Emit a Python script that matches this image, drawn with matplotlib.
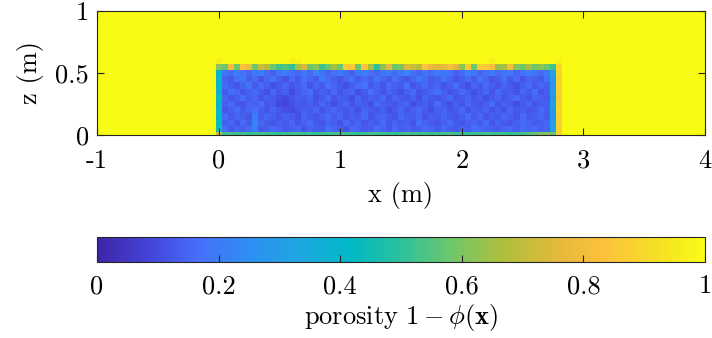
import numpy as np
import matplotlib
matplotlib.use('Agg')
import matplotlib.pyplot as plt
from matplotlib.colors import LinearSegmentedColormap

# grid spacing of the porosity field (cell centres)
dx = 0.05
x_min, x_max = -1.0, 4.0
z_min, z_max = 0.0, 1.0

# porosity inside the block, in percent, rows from top (z=0.50) to bottom (z=0.05), x=0.05..2.70
interior = [
    [18, 16, 20, 17, 15, 19, 21, 16, 14, 18, 20, 17, 15, 19, 16, 22, 18, 15, 17, 20, 16, 14, 19, 21, 17, 15, 18,
     20, 16, 19, 22, 17, 15, 18, 16, 20, 19, 17, 14, 16, 21, 18, 15, 17, 20, 16, 18, 19, 15, 17, 20, 18, 16, 19],
    [15, 13, 17, 19, 14, 16, 12, 15, 18, 14, 12, 16, 13, 17, 15, 13, 19, 16, 14, 12, 15, 17, 13, 16, 14, 18, 15,
     13, 17, 14, 12, 15, 19, 16, 13, 14, 17, 15, 12, 14, 16, 13, 18, 15, 12, 14, 17, 13, 16, 12, 15, 14, 13, 17],
    [16, 14, 12, 15, 18, 13, 16, 14, 11, 13, 15, 12, 14, 16, 12, 15, 13, 17, 15, 13, 11, 14, 16, 18, 13, 15, 12,
     16, 14, 13, 17, 12, 14, 16, 13, 15, 12, 14, 17, 13, 11, 15, 13, 16, 14, 12, 15, 13, 11, 14, 16, 13, 15, 14],
    [13, 17, 15, 12, 14, 16, 13, 11, 15, 12, 14, 10, 13, 15, 17, 12, 14, 13, 16, 12, 14, 15, 11, 13, 17, 14, 12,
     15, 13, 11, 14, 16, 12, 13, 15, 17, 14, 12, 13, 16, 14, 11, 13, 15, 12, 16, 13, 14, 12, 15, 13, 17, 12, 14],
    [15, 12, 14, 17, 13, 15, 12, 14, 13, 11, 10, 12, 14, 13, 15, 11, 13, 16, 12, 14, 13, 11, 15, 12, 14, 13, 16,
     12, 15, 13, 12, 14, 11, 15, 13, 12, 14, 16, 12, 13, 15, 12, 14, 11, 13, 15, 12, 14, 16, 13, 12, 15, 14, 13],
    [14, 16, 13, 12, 15, 14, 16, 12, 13, 10, 9, 11, 13, 12, 14, 12, 15, 13, 11, 13, 15, 12, 14, 13, 11, 16, 14,
     13, 12, 14, 15, 11, 13, 14, 12, 16, 13, 11, 14, 12, 15, 13, 12, 14, 16, 12, 14, 13, 11, 13, 15, 12, 13, 14],
    [12, 14, 16, 13, 15, 17, 14, 12, 15, 13, 11, 10, 12, 14, 13, 15, 12, 14, 16, 13, 12, 14, 11, 15, 13, 12, 14,
     11, 13, 15, 12, 14, 16, 13, 11, 14, 15, 12, 13, 16, 12, 14, 13, 15, 12, 14, 12, 15, 13, 14, 12, 13, 16, 14],
    [16, 13, 15, 14, 12, 20, 13, 15, 14, 12, 14, 13, 11, 15, 13, 12, 14, 16, 13, 15, 12, 14, 13, 16, 12, 14, 15,
     13, 12, 16, 14, 13, 15, 12, 14, 13, 15, 13, 12, 14, 16, 13, 15, 12, 14, 13, 15, 14, 12, 16, 13, 14, 15, 13],
    [14, 15, 12, 16, 13, 22, 15, 13, 12, 14, 13, 15, 12, 14, 16, 13, 12, 15, 14, 12, 16, 13, 15, 12, 14, 13, 16,
     12, 15, 13, 14, 12, 17, 15, 13, 12, 14, 16, 13, 12, 14, 15, 13, 16, 12, 15, 13, 12, 14, 16, 15, 13, 14, 15],
    [17, 13, 15, 14, 16, 21, 13, 14, 16, 15, 13, 14, 16, 12, 15, 14, 13, 17, 15, 14, 12, 16, 15, 13, 14, 17, 15,
     13, 16, 14, 15, 13, 14, 16, 15, 13, 16, 14, 13, 15, 14, 17, 16, 15, 14, 13, 15, 16, 14, 17, 15, 16, 14, 15],
]

# top layer of the block (z=0.55), x=0..2.80
top_row = [62, 58, 82, 58, 84, 80, 58, 72, 68, 58, 52, 55, 50, 66, 74, 58, 62, 52, 58, 66, 58, 86, 86, 58, 84, 66,
           50, 62, 76, 58, 60, 74, 72, 68, 84, 78, 76, 77, 82, 76, 62, 86, 58, 86, 86, 82, 64, 66, 82, 62, 58, 66,
           58, 62, 58, 52, 90]
# bottom layer (z=0), x=0..2.80
bottom_row = [72, 52, 53, 52, 52, 51, 52, 53, 52, 52, 51, 52, 52, 53, 52, 52, 51, 52, 52, 53, 52, 52, 52, 51, 52,
              53, 52, 52, 52, 51, 52, 53, 52, 52, 52, 51, 52, 52, 53, 52, 52, 51, 52, 52, 53, 52, 52, 52, 51, 52,
              53, 55, 57, 60, 62, 58, 88]
# left column (x=0), right columns (x=2.75, x=2.80), z=0.05..0.50
left_col = [45, 44, 42, 38, 40, 44, 36, 42, 38, 40]
right_col = [32, 30, 28, 30, 31, 29, 30, 28, 30, 32]
edge_col = [88, 87, 88, 90, 88, 87, 88, 89, 88, 90]
# slightly reduced cells just above the block (z=0.60)
cap_x = [0.0, 0.6, 0.65, 2.25, 2.8]
cap_val = [96, 97, 97, 97, 97]

# parula-like colour anchors
parula_pts = ['#3e26a8', '#4443d9', '#476ffa', '#2d8ff3', '#1ea7e0', '#00b9c6', '#2cc19b', '#6fc76b',
              '#aebf3c', '#e0b93b', '#fcc03c', '#f5dd27', '#f9fb15']
cmap = LinearSegmentedColormap.from_list('parula', parula_pts, N=256)

nx = int(round((x_max - x_min) / dx)) + 1
nz = int(round((z_max - z_min) / dx)) + 1
field = np.ones((nz, nx))
i0 = int(round((0.0 - x_min) / dx))
n_in = len(interior[0])
for r, row in enumerate(interior):
    k = 10 - r
    field[k, i0 + 1:i0 + 1 + n_in] = np.array(row) / 100
field[11, i0:i0 + len(top_row)] = np.array(top_row) / 100
field[0, i0:i0 + len(bottom_row)] = np.array(bottom_row) / 100
field[1:11, i0] = np.array(left_col) / 100
field[1:11, i0 + n_in + 1] = np.array(right_col) / 100
field[1:11, i0 + n_in + 2] = np.array(edge_col) / 100
for xc, v in zip(cap_x, cap_val):
    field[12, int(round((xc - x_min) / dx))] = v / 100

plt.rcParams['mathtext.fontset'] = 'cm'
plt.rcParams['font.family'] = 'cmr10'
plt.rcParams['axes.unicode_minus'] = False
fs = 19

fig = plt.figure(figsize=(7.12, 3.38), dpi=100)
ax = fig.add_axes([97 / 712, 1 - 135 / 338, 608 / 712, 124 / 338])
im = ax.imshow(field, origin='lower', cmap=cmap, vmin=0, vmax=1, aspect='auto',
               interpolation='nearest',
               extent=[x_min - dx / 2, x_max + dx / 2, z_min - dx / 2, z_max + dx / 2])
ax.set_xlim(x_min, x_max)
ax.set_ylim(z_min, z_max)
xt = [-1, 0, 1, 2, 3, 4]
ax.set_xticks(xt)
ax.set_xticklabels(['-1', '0', '1', '2', '3', '4'], fontsize=fs)
ax.set_yticks([0, 0.5, 1])
ax.set_yticklabels(['0', '0.5', '1'], fontsize=fs)
ax.tick_params(direction='in', length=5, width=0.8, color='#262626', top=True, right=True, pad=10)
ax.tick_params(axis='y', pad=6)
for s in ax.spines.values():
    s.set_color('#262626')
    s.set_linewidth(0.8)
ax.set_xlabel('x (m)', fontsize=fs, labelpad=7)
ax.set_ylabel('z (m)', fontsize=fs, labelpad=8)

cax = fig.add_axes([97 / 712, 1 - 262 / 338, 608 / 712, 25 / 338])
cb = fig.colorbar(im, cax=cax, orientation='horizontal')
cb.set_ticks([0, 0.2, 0.4, 0.6, 0.8, 1])
cb.set_ticklabels(['0', '0.2', '0.4', '0.6', '0.8', '1'])
cax.tick_params(direction='in', length=5, width=0.8, color='#262626', labelsize=fs, pad=9)
cb.outline.set_edgecolor('#262626')
cb.outline.set_linewidth(0.8)
cb.set_label(r'porosity $1-\phi(\mathbf{x})$', fontsize=fs, labelpad=3)

fig.savefig('out.png', dpi=100)
